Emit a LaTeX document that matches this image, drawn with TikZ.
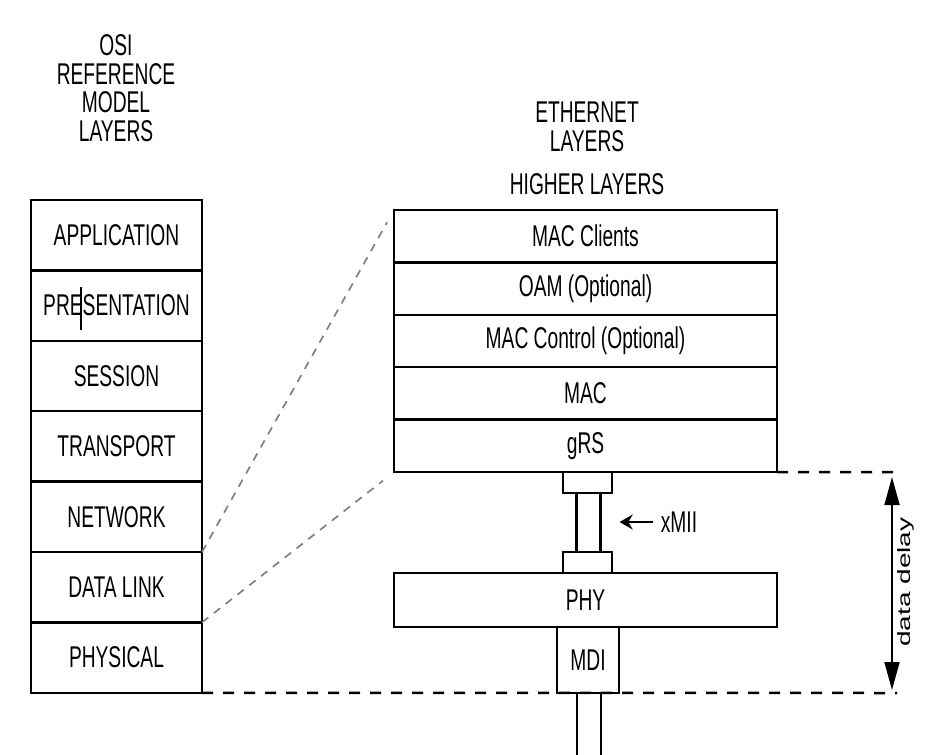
\documentclass[tikz,border=0pt]{standalone}
\usepackage{fontspec}
\setmainfont{Liberation Sans}[FakeStretch=0.64]
\newfontfamily\plainsans{Liberation Sans}
\usetikzlibrary{positioning,arrows.meta}

\begin{document}
\begin{tikzpicture}[x=1pt,y=-1pt,
    layer/.style={draw,line width=2.5pt,outer sep=0pt,inner sep=0pt,font=\fontsize{30pt}{30pt}\selectfont},
    osi/.style={layer,minimum width=171pt,minimum height=70.4pt},
    eth/.style={layer,minimum width=383pt,minimum height=52.4pt},
    port/.style={draw,line width=2.5pt,outer sep=0pt,inner sep=0pt,minimum width=49pt,minimum height=21pt},
    title/.style={align=center,inner sep=0pt,font=\fontsize{30pt}{28.5pt}\selectfont},
    link/.style={gray,line width=1.7pt,dash pattern=on 8pt off 7pt},
    level/.style={line width=2.5pt,dash pattern=on 11pt off 10pt}]
  \useasboundingbox (0,0) rectangle (932,755);

  \node[title] (osititle) at (116,88) {OSI\\REFERENCE\\MODEL\\LAYERS};
  \node[title,font=\fontsize{30pt}{29.5pt}\selectfont] (ethtitle) at (587,127) {ETHERNET\\LAYERS};
  \node[title] (higher) at (587,184) {HIGHER LAYERS};

  % OSI stack
  \node[osi,anchor=north west] (app) at (31,200) {APPLICATION};
  \node[osi,below=0pt of app] (pres) {PRESENTATION};
  \node[osi,below=0pt of pres] (sess) {SESSION};
  \node[osi,below=0pt of sess] (trans) {TRANSPORT};
  \node[osi,below=0pt of trans] (net) {NETWORK};
  \node[osi,below=0pt of net] (dlink) {DATA LINK};
  \node[osi,below=0pt of dlink] (phys) {PHYSICAL};
  \draw[line width=1.4pt] (81,287) -- (81,330);

  % Ethernet stack
  \node[eth,anchor=north west] (clients) at (394,210) {MAC Clients};
  \node[eth,below=0pt of clients] (oam) {OAM (Optional)};
  \node[eth,below=0pt of oam] (macctl) {MAC Control (Optional)};
  \node[eth,below=0pt of macctl] (mac) {MAC};
  \node[eth,below=0pt of mac] (grs) {gRS};
  \node[port,anchor=north] (xtop) at (587.5,472) {};
  \node[port,anchor=south] (xbot) at (587.5,573) {};
  \node[eth,minimum height=54pt,anchor=north west] (phy) at (394,573) {PHY};
  \node[layer,minimum width=62pt,minimum height=66pt,anchor=north] (mdi) at (588,627) {MDI};

  \draw[line width=2.5pt] ([xshift=-11pt]xtop.south) -- ([xshift=-11pt]xbot.north);
  \draw[line width=2.5pt] ([xshift=13pt]xtop.south) -- ([xshift=13pt]xbot.north);
  \draw[line width=2.5pt] ([xshift=-11pt]mdi.south) -- ++(0,62);
  \draw[line width=2.5pt] ([xshift=13pt]mdi.south) -- ++(0,62);

  \node[inner sep=0pt,font=\fontsize{30pt}{30pt}\selectfont] (xmii) at (679,522) {xMII};
  \draw[-{Stealth[length=13pt,width=15pt]},line width=2.5pt] ([xshift=-8pt]xmii.west) -- ++(-33,0);

  % mapping between the stacks
  \draw[link,shorten >=14pt] (dlink.north east) -- (clients.north west);
  \draw[link,shorten >=14pt] (phys.north east) -- (grs.south west);

  % delay levels
  \coordinate (lvltop) at (897,472);
  \coordinate (lvlbot) at (897,693);
  \draw[level] (grs.south east) -- (lvltop);
  \draw[level] (phys.south east) -- (lvlbot);
  \draw[{Triangle[length=28pt,width=15pt]}-{Triangle[length=28pt,width=15pt]},line width=1.8pt]
    ([shift={(-5,5)}]lvltop) -- ([shift={(-5,-3)}]lvlbot);
  \node[rotate=90,inner sep=0pt,font=\plainsans\fontsize{28pt}{28pt}\selectfont] (delay) at (906,582)
    {\scalebox{1}[0.64]{data delay}};
\end{tikzpicture}
\end{document}
